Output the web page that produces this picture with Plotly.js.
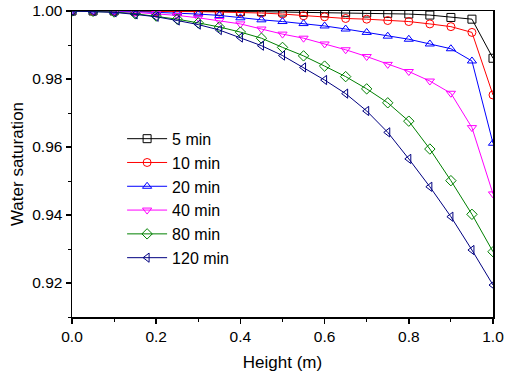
<!DOCTYPE html>
<html>
<head>
<meta charset="utf-8">
<script src="https://cdn.plot.ly/plotly-3.0.1.min.js"></script>
<style>html,body{margin:0;padding:0;background:#fff;}#chart{width:510px;height:378px;}</style>
</head>
<body>
<div id="chart"></div>
<script>
const heights = [0, 0.05, 0.1, 0.15, 0.2, 0.25, 0.3, 0.35, 0.4, 0.45, 0.5, 0.55, 0.6, 0.65, 0.7, 0.75, 0.8, 0.85, 0.9, 0.95, 1.0];
const seriesNames = ["5 min", "10 min", "20 min", "40 min", "80 min", "120 min"];
const sat5 = [1.0, 1.0, 1.0, 1.0, 1.0, 0.9999, 0.9999, 0.9999, 0.9998, 0.9998, 0.9997, 0.9996, 0.9995, 0.9995, 0.9994, 0.9993, 0.9991, 0.9988, 0.9981, 0.9976, 0.9861];
const sat10 = [1.0, 1.0, 1.0, 0.9999, 0.9999, 0.9998, 0.9998, 0.9997, 0.9996, 0.9994, 0.9991, 0.9986, 0.9983, 0.9978, 0.9976, 0.9972, 0.9969, 0.9962, 0.9954, 0.9937, 0.9753];
const sat20 = [1.0, 1.0, 0.9999, 0.9998, 0.9996, 0.9994, 0.9991, 0.9987, 0.9980, 0.9974, 0.9969, 0.9963, 0.9956, 0.9947, 0.9937, 0.9926, 0.9917, 0.9903, 0.9889, 0.9853, 0.9611];
const sat40 = [1.0, 1.0, 0.9998, 0.9996, 0.9992, 0.9987, 0.9980, 0.9972, 0.9962, 0.9947, 0.9932, 0.9920, 0.9903, 0.9886, 0.9866, 0.9843, 0.9822, 0.9794, 0.9758, 0.9657, 0.9462];
const sat80 = [1.0, 0.9999, 0.9997, 0.9992, 0.9985, 0.9976, 0.9965, 0.9953, 0.9938, 0.9920, 0.9893, 0.9868, 0.9838, 0.9807, 0.9771, 0.9730, 0.9676, 0.9594, 0.9501, 0.9402, 0.9292];
const sat120 = [1.0, 0.9999, 0.9996, 0.9990, 0.9983, 0.9972, 0.9960, 0.9944, 0.9922, 0.9898, 0.9869, 0.9834, 0.9797, 0.9757, 0.9706, 0.9643, 0.9565, 0.9483, 0.9395, 0.9297, 0.9194];
const seriesValues = [sat5, sat10, sat20, sat40, sat80, sat120];
const colors = ["#000000", "#ff0000", "#0000ff", "#ff00ff", "#008000", "#000080"];
const symbols = ["square-open", "circle-open", "triangle-up-open", "triangle-down-open", "diamond-open", "triangle-left-open"];

const traces = seriesNames.map((name, i) => ({
  x: heights,
  y: seriesValues[i],
  name: name,
  type: "scatter",
  mode: "lines+markers",
  line: {color: colors[i], width: 1},
  marker: {symbol: symbols[i], size: 8, color: colors[i], line: {color: colors[i], width: 1}}
}));

const font = "Arial, 'Liberation Sans', sans-serif";
const layout = {
  width: 510, height: 378,
  margin: {l: 72, r: 17, t: 11, b: 61},
  paper_bgcolor: "#ffffff", plot_bgcolor: "#ffffff",
  font: {family: font, color: "#000000", size: 15.5},
  showlegend: true,
  legend: {
    x: 0.119, y: 0.638, xanchor: "left", yanchor: "top",
    bgcolor: "rgba(0,0,0,0)", borderwidth: 0,
    font: {family: font, size: 16, color: "#000"},
    itemwidth: 40
  },
  xaxis: {
    range: [0, 1.0], dtick: 0.2, tickformat: ".1f",
    showgrid: false, zeroline: false,
    showline: true, linecolor: "#000", linewidth: 1.5, mirror: true,
    ticks: "outside", ticklen: 5, tickwidth: 1.5, tickcolor: "#000",
    minor: {dtick: 0.1, ticks: "outside", ticklen: 3, tickwidth: 1, tickcolor: "#000", showgrid: false},
    tickfont: {size: 15.5},
    title: {text: "Height (m)", font: {size: 17}, standoff: 12}
  },
  yaxis: {
    range: [0.91, 1.0], dtick: 0.02, tick0: 0.92, tickformat: ".2f",
    showgrid: false, zeroline: false,
    showline: true, linecolor: "#000", linewidth: 1.5, mirror: true,
    ticks: "outside", ticklen: 5, tickwidth: 1.5, tickcolor: "#000",
    minor: {dtick: 0.01, ticks: "outside", ticklen: 3, tickwidth: 1, tickcolor: "#000", showgrid: false},
    tickfont: {size: 15.5},
    title: {text: "Water saturation", font: {size: 17}, standoff: 4}
  }
};

Plotly.newPlot("chart", traces, layout, {displayModeBar: false, staticPlot: true});
</script>
</body>
</html>
